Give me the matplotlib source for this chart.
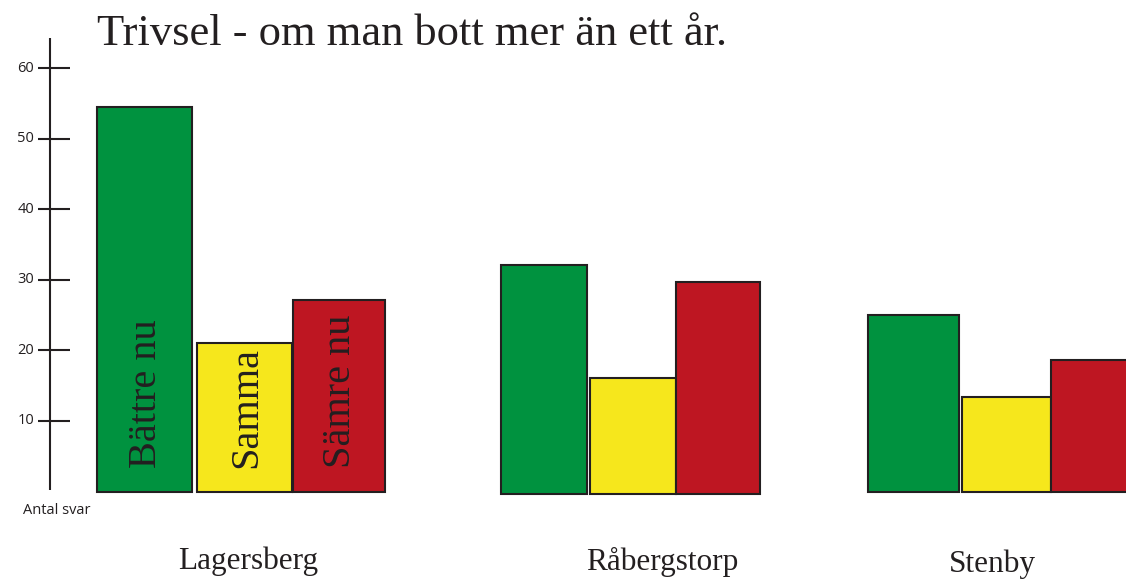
import matplotlib.pyplot as plt

# ---------------- Data ----------------
groups = ["Lagersberg", "Råbergstorp", "Stenby"]
series = ["Bättre nu", "Samma", "Sämre nu"]
battre = [54.5, 32.1, 25.0]
samma = [21.0, 16.1, 13.4]
samre = [27.1, 29.7, 18.6]
ticks = [10, 20, 30, 40, 50, 60]

colors = ["#00923f", "#f6e71c", "#be1622"]
edge = "#231f20"

# ---------------- Layout (pixels across, values up) ----------------
W, H = 1126, 579
px_per_unit = 7.06
zero_px = 491.6           # pixel row of value 0, from top
bar_lefts = [[97, 197, 293], [501, 590, 676], [868, 962, 1051]]
bar_widths = [[95, 95, 92], [86, 86, 84], [91, 89, 90]]
base = [0, -0.3, 0]
label_x = [248, 662, 992]
label_base = [569, 570, 572]


def val(py):
    """pixel row from top -> value on the axis"""
    return (zero_px - py) / px_per_unit


fig = plt.figure(figsize=(W / 100, H / 100), dpi=100)
ax = fig.add_axes([0, 0, 1, 1])
ax.set_xlim(0, W)
ax.set_ylim(val(H), val(0))
ax.axis("off")

values = list(zip(battre, samma, samre))
for g in range(len(groups)):
    for s in range(3):
        ax.bar(bar_lefts[g][s], values[g][s] - base[g], width=bar_widths[g][s],
               bottom=base[g], align="edge", color=colors[s],
               edgecolor=edge, linewidth=1.5, zorder=2)
    ax.text(label_x[g], val(label_base[g]), groups[g], ha="center", va="baseline",
            family="Liberation Serif", fontsize=22.5, color="#231f20")

# series names written inside the first group
for s in range(3):
    cx = bar_lefts[0][s] + bar_widths[0][s] / 2 + 2
    ax.text(cx, val(468), series[s], rotation=90, ha="center", va="bottom",
            family="Liberation Serif", fontsize=29, color="#231f20", zorder=3)

# hand drawn y axis
ax.vlines(50, val(490), val(38), color=edge, linewidth=1.5)
for t in ticks:
    ax.hlines(t, 38, 70, color=edge, linewidth=1.5)
    ax.text(34, t, str(t), ha="right", va="center",
            family="Open Sans", fontsize=10.5, color="#231f20")
ax.text(23, val(510), "Antal svar", ha="left", va="center",
        family="Open Sans", fontsize=10.5, color="#231f20")

ax.text(97, val(45), "Trivsel - om man bott mer än ett år.", ha="left", va="baseline",
        family="Liberation Serif", fontsize=32, color="#231f20")

fig.savefig("out.png", dpi=100)
